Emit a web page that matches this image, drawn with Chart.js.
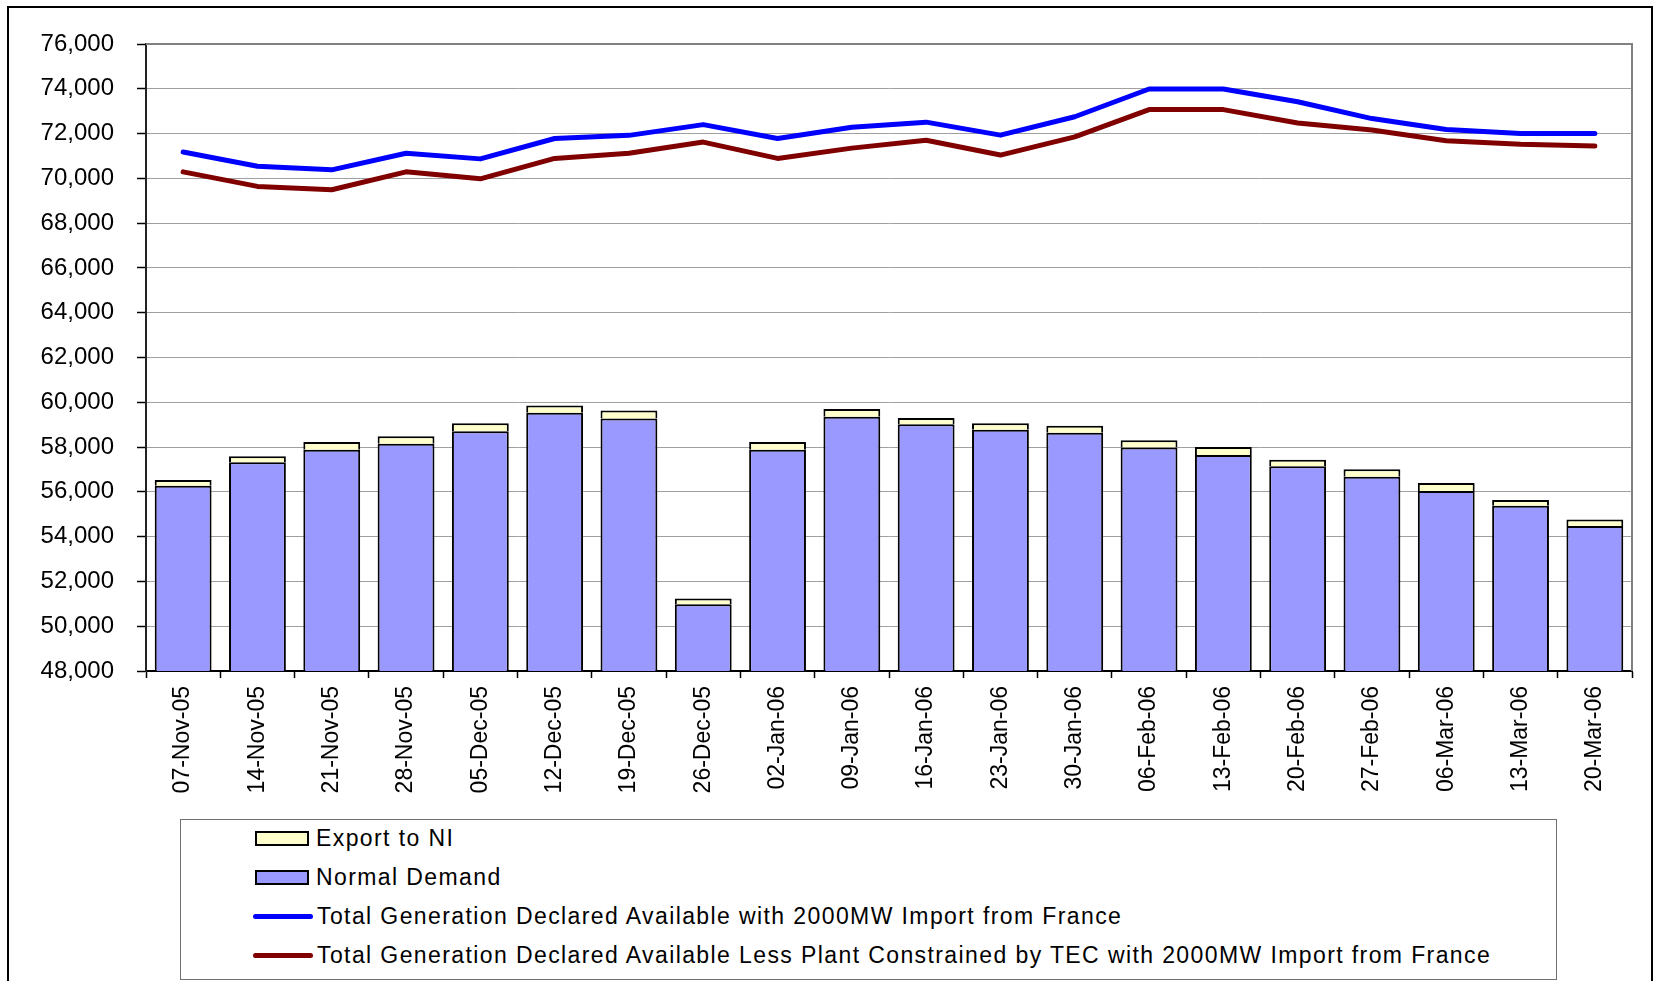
<!DOCTYPE html>
<html>
<head>
<meta charset="utf-8">
<script src="https://cdn.jsdelivr.net/npm/chart.js@4/dist/chart.umd.min.js"></script>
<style>
  html, body { margin: 0; padding: 0; background: #fff; }
  body { width: 1656px; height: 981px; overflow: hidden; position: relative; font-family: "Liberation Sans", Arial, sans-serif; }
  #wrap { position: absolute; left: 0; top: 0; width: 1656px; height: 981px; }
  #frame { position: absolute; left: 7px; top: 6px; width: 1642px; height: 1000px; border: 2px solid #000; pointer-events: none; }
  #legend { position: absolute; left: 180px; top: 819px; width: 1377px; height: 161px; border: 1.5px solid #707070; box-sizing: border-box; background: #fff; }
  .row { position: absolute; left: 72px; height: 30px; display: flex; align-items: center; font-size: 23px; letter-spacing: 1.4px; color: #000; white-space: nowrap; }
  .sw-bar { width: 50px; height: 11px; border: 2px solid #000; margin-right: 7px; margin-left: 2px; }
  .sw-line { width: 60px; height: 5px; border-radius: 3px; margin-right: 4px; }
</style>
</head>
<body>
<div id="wrap"><canvas id="chart"></canvas></div>
<div id="frame"></div>
<div id="legend"></div>
<script>
const categories = ['07-Nov-05', '14-Nov-05', '21-Nov-05', '28-Nov-05', '05-Dec-05', '12-Dec-05', '19-Dec-05',
  '26-Dec-05', '02-Jan-06', '09-Jan-06', '16-Jan-06', '23-Jan-06', '30-Jan-06', '06-Feb-06', '13-Feb-06',
  '20-Feb-06', '27-Feb-06', '06-Mar-06', '13-Mar-06', '20-Mar-06'];

const normalDemand = [56270, 57320, 57880, 58150, 58710, 59530, 59280, 50980, 57880, 59350,
  59020, 58770, 58640, 57980, 57650, 57140, 56680, 56040, 55380, 54480];

const exportNI = [260, 270, 350, 330, 350, 330, 350, 260, 350, 350,
  280, 290, 310, 330, 350, 290, 330, 350, 260, 280];

const genAvailable = [71180, 70540, 70380, 71120, 70870, 71780, 71920, 72400, 71780, 72280,
  72510, 71930, 72750, 73990, 73990, 73420, 72670, 72180, 72000, 72000];

const genLessTEC = [70290, 69640, 69490, 70290, 69980, 70890, 71120, 71620, 70890, 71350,
  71700, 71040, 71850, 73070, 73070, 72470, 72160, 71680, 71520, 71440];

const yMin = 48000;
const yMax = 76000;
const yStep = 2000;

Chart.defaults.font.family = '"Liberation Sans", Arial, sans-serif';
Chart.defaults.color = '#000';

// grey frame on top and right of the plot area
const plotFrame = {
  id: 'plotFrame',
  beforeDatasetsDraw(chart) {
    const a = chart.chartArea;
    const c = chart.ctx;
    c.save();
    c.strokeStyle = '#808080';
    c.lineWidth = 2;
    c.beginPath();
    c.moveTo(a.left, a.top);
    c.lineTo(a.right, a.top);
    c.lineTo(a.right, a.bottom);
    c.stroke();
    c.restore();
  }
};

const datasets = [
  {
    type: 'bar', label: 'Normal Demand', data: normalDemand, stack: 'demand', order: 2,
    backgroundColor: '#9999FF', borderColor: '#000', borderSkipped: false,
    borderWidth: { top: 2, left: 2, right: 2, bottom: 2 }
  },
  {
    type: 'bar', label: 'Export to NI', data: exportNI, stack: 'demand', order: 2,
    backgroundColor: '#FFFFCC', borderColor: '#000', borderSkipped: false,
    borderWidth: { top: 2, left: 2, right: 2, bottom: 0 }
  },
  {
    type: 'line', label: 'Total Generation Declared Available with 2000MW Import from France',
    data: genAvailable, stack: 'gen1', order: 0, borderColor: '#0000FF', borderWidth: 5,
    pointRadius: 0, tension: 0, borderCapStyle: 'round', borderJoinStyle: 'round', fill: false
  },
  {
    type: 'line', label: 'Total Generation Declared Available Less Plant Constrained by TEC with 2000MW Import from France',
    data: genLessTEC, stack: 'gen2', order: 1, borderColor: '#800000', borderWidth: 5,
    pointRadius: 0, tension: 0, borderCapStyle: 'round', borderJoinStyle: 'round', fill: false
  }
];

const chart = new Chart(document.getElementById('chart'), {
  data: { labels: categories, datasets: datasets },
  plugins: [plotFrame],
  options: {
    responsive: true,
    maintainAspectRatio: false,
    animation: false,
    layout: { padding: { left: 0, top: 44, right: 24, bottom: 0 } },
    datasets: { bar: { categoryPercentage: 1, barPercentage: 0.765 } },
    plugins: { legend: { display: false }, tooltip: { enabled: false } },
    scales: {
      x: {
        stacked: true,
        offset: true,
        border: { color: '#000', width: 2 },
        grid: { offset: true, drawOnChartArea: false, drawTicks: true, tickLength: 7, tickColor: '#000', tickWidth: 1.5 },
        ticks: { autoSkip: false, minRotation: 90, maxRotation: 90, padding: 8, font: { size: 23 } },
        afterFit(scale) { scale.height = 310; }
      },
      y: {
        stacked: true,
        min: yMin,
        max: yMax,
        border: { color: '#222', width: 2 },
        grid: { color: '#A0A0A0', lineWidth: 1, tickLength: 9, tickColor: '#000', tickWidth: 1.5 },
        ticks: {
          stepSize: yStep, padding: 23, font: { size: 24 },
          callback: (v) => v.toLocaleString('en-US')
        },
        afterFit(scale) { scale.width = 146; }
      }
    }
  }
});

// legend box drawn as html from the dataset styles
const legendRows = [
  { ds: datasets[1], kind: 'bar' },
  { ds: datasets[0], kind: 'bar' },
  { ds: datasets[2], kind: 'line' },
  { ds: datasets[3], kind: 'line' }
];
const legendEl = document.getElementById('legend');
legendRows.forEach((item, i) => {
  const row = document.createElement('div');
  row.className = 'row';
  row.style.top = (3 + i * 39) + 'px';
  const sw = document.createElement('div');
  if (item.kind === 'bar') {
    sw.className = 'sw-bar';
    sw.style.background = item.ds.backgroundColor;
  } else {
    sw.className = 'sw-line';
    sw.style.background = item.ds.borderColor;
  }
  const txt = document.createElement('span');
  txt.textContent = item.ds.label;
  row.appendChild(sw);
  row.appendChild(txt);
  legendEl.appendChild(row);
});
</script>
</body>
</html>
